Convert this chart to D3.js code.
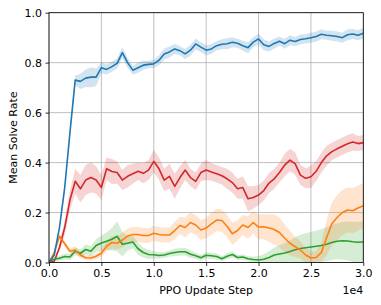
<!DOCTYPE html>
<html>
<head>
<meta charset="utf-8">
<script src="https://cdn.jsdelivr.net/npm/d3@7"></script>
<style>
body { margin: 0; background: #fff; }
text { font-family: 'DejaVu Sans', sans-serif; }
</style>
</head>
<body>
<div id="chart"></div>
<script>
// training steps, one value every 500 steps
let steps = [0, 500, 1000, 1500, 2000, 2500, 3000, 3500, 4000, 4500, 5000,
  5500, 6000, 6500, 7000, 7500, 8000, 8500, 9000, 9500, 10000,
  10500, 11000, 11500, 12000, 12500, 13000, 13500, 14000, 14500, 15000,
  15500, 16000, 16500, 17000, 17500, 18000, 18500, 19000, 19500, 20000,
  20500, 21000, 21500, 22000, 22500, 23000, 23500, 24000, 24500, 25000,
  25500, 26000, 26500, 27000, 27500, 28000, 28500, 29000, 29500, 30000]

let blueMean = [0.00, 0.03, 0.14, 0.30, 0.52, 0.73, 0.725, 0.738, 0.742, 0.742, 0.78,
  0.773, 0.784, 0.797, 0.84, 0.80, 0.77, 0.78, 0.79, 0.793, 0.795,
  0.81, 0.835, 0.843, 0.855, 0.848, 0.835, 0.85, 0.875, 0.862, 0.85,
  0.855, 0.868, 0.874, 0.876, 0.882, 0.878, 0.868, 0.86, 0.882, 0.895,
  0.872, 0.865, 0.877, 0.886, 0.876, 0.89, 0.885, 0.893, 0.896, 0.90,
  0.905, 0.914, 0.91, 0.908, 0.905, 0.90, 0.912, 0.915, 0.91, 0.918]
let blueBand = [0.003, 0.005, 0.008, 0.01, 0.012, 0.02, 0.03, 0.035, 0.04, 0.035, 0.022,
  0.02, 0.02, 0.02, 0.022, 0.02, 0.018, 0.02, 0.018, 0.015, 0.017,
  0.02, 0.022, 0.022, 0.02, 0.018, 0.02, 0.022, 0.022, 0.02, 0.02,
  0.02, 0.018, 0.02, 0.022, 0.02, 0.018, 0.02, 0.022, 0.02, 0.022,
  0.022, 0.02, 0.02, 0.018, 0.02, 0.02, 0.018, 0.02, 0.018, 0.02,
  0.02, 0.02, 0.018, 0.02, 0.02, 0.02, 0.022, 0.02, 0.02, 0.022]

let redMean = [0.00, 0.005, 0.06, 0.14, 0.25, 0.325, 0.295, 0.33, 0.34, 0.33, 0.30,
  0.375, 0.364, 0.36, 0.33, 0.345, 0.355, 0.365, 0.357, 0.37, 0.405,
  0.375, 0.33, 0.345, 0.305, 0.34, 0.37, 0.34, 0.325, 0.36, 0.37,
  0.362, 0.355, 0.347, 0.335, 0.32, 0.295, 0.30, 0.255, 0.26, 0.27,
  0.288, 0.318, 0.335, 0.36, 0.39, 0.41, 0.395, 0.35, 0.337, 0.343,
  0.365, 0.40, 0.427, 0.444, 0.455, 0.465, 0.475, 0.482, 0.476, 0.48]
let redBand = [0.002, 0.005, 0.015, 0.03, 0.04, 0.05, 0.055, 0.06, 0.06, 0.055, 0.05,
  0.045, 0.05, 0.045, 0.04, 0.045, 0.04, 0.035, 0.04, 0.04, 0.045,
  0.045, 0.045, 0.05, 0.05, 0.045, 0.04, 0.035, 0.035, 0.035, 0.04,
  0.035, 0.035, 0.035, 0.04, 0.04, 0.04, 0.045, 0.05, 0.045, 0.04,
  0.04, 0.04, 0.04, 0.04, 0.045, 0.045, 0.045, 0.04, 0.04, 0.045,
  0.04, 0.04, 0.04, 0.035, 0.035, 0.035, 0.035, 0.035, 0.03, 0.03]

let orangeMean = [0.00, 0.04, 0.105, 0.075, 0.045, 0.05, 0.03, 0.019, 0.018, 0.025, 0.037,
  0.065, 0.08, 0.077, 0.09, 0.106, 0.112, 0.112, 0.108, 0.108, 0.117,
  0.112, 0.11, 0.11, 0.128, 0.148, 0.14, 0.16, 0.15, 0.13, 0.138,
  0.155, 0.17, 0.168, 0.145, 0.115, 0.128, 0.15, 0.14, 0.16, 0.142,
  0.143, 0.138, 0.132, 0.12, 0.097, 0.077, 0.063, 0.05, 0.03, 0.018,
  0.02, 0.04, 0.10, 0.155, 0.18, 0.20, 0.21, 0.207, 0.218, 0.227]
let orangeBand = [0.002, 0.005, 0.01, 0.012, 0.012, 0.015, 0.012, 0.01, 0.01, 0.012, 0.015,
  0.02, 0.025, 0.025, 0.03, 0.03, 0.03, 0.03, 0.03, 0.03, 0.03,
  0.03, 0.03, 0.03, 0.035, 0.035, 0.04, 0.04, 0.04, 0.04, 0.04,
  0.045, 0.045, 0.045, 0.045, 0.045, 0.04, 0.04, 0.045, 0.045, 0.05,
  0.05, 0.055, 0.06, 0.06, 0.055, 0.05, 0.04, 0.035, 0.03, 0.025,
  0.025, 0.04, 0.07, 0.085, 0.09, 0.09, 0.09, 0.09, 0.09, 0.09]

let greenMean = [0.005, 0.013, 0.017, 0.024, 0.022, 0.045, 0.037, 0.052, 0.045, 0.068, 0.078,
  0.085, 0.093, 0.105, 0.073, 0.077, 0.082, 0.055, 0.04, 0.032, 0.031,
  0.028, 0.03, 0.036, 0.04, 0.043, 0.043, 0.033, 0.027, 0.019, 0.029,
  0.027, 0.024, 0.015, 0.025, 0.032, 0.02, 0.022, 0.015, 0.012, 0.01,
  0.013, 0.02, 0.03, 0.034, 0.038, 0.044, 0.051, 0.056, 0.059, 0.062,
  0.065, 0.068, 0.073, 0.08, 0.085, 0.087, 0.086, 0.083, 0.081, 0.082]
let greenBand = [0.003, 0.008, 0.01, 0.012, 0.012, 0.015, 0.015, 0.02, 0.02, 0.025, 0.03,
  0.035, 0.045, 0.06, 0.05, 0.03, 0.025, 0.025, 0.02, 0.018, 0.015,
  0.012, 0.012, 0.012, 0.015, 0.015, 0.015, 0.015, 0.012, 0.012, 0.012,
  0.012, 0.012, 0.01, 0.012, 0.012, 0.01, 0.01, 0.01, 0.012, 0.015,
  0.02, 0.025, 0.03, 0.035, 0.04, 0.045, 0.05, 0.055, 0.058, 0.06,
  0.062, 0.065, 0.068, 0.07, 0.072, 0.075, 0.078, 0.08, 0.082, 0.083]

let xTicks = [0, 5000, 10000, 15000, 20000, 25000, 30000]
let yTicks = [0, 0.2, 0.4, 0.6, 0.8, 1.0]

// drawn in this order, last one on top
let series = [
  { mean: redMean, band: redBand, color: '#d62728' },
  { mean: greenMean, band: greenBand, color: '#2ca02c' },
  { mean: orangeMean, band: orangeBand, color: '#ff7f0e' },
  { mean: blueMean, band: blueBand, color: '#1f77b4' }
]

let width = 381, height = 305
let plotLeft = 49, plotRight = 363.3, plotTop = 12.7, plotBottom = 262.5
let fontSize = '11px'

let svg = d3.select('#chart')
.append('svg')
.attr('width', width)
.attr('height', height)

let x = d3.scaleLinear().domain([0, 30000]).range([plotLeft, plotRight])
let y = d3.scaleLinear().domain([0, 1]).range([plotBottom, plotTop])

svg.append('clipPath')
.attr('id', 'plot-clip')
.append('rect')
.attr('x', plotLeft)
.attr('y', plotTop)
.attr('width', plotRight - plotLeft)
.attr('height', plotBottom - plotTop)

// grid
let grid = svg.append('g').attr('class', 'grid')
grid.selectAll('.vgrid')
.data(xTicks)
.join('line')
.attr('x1', d => x(d)).attr('x2', d => x(d))
.attr('y1', plotTop).attr('y2', plotBottom)
.style('stroke', '#b0b0b0')
.style('stroke-width', 0.8)
grid.selectAll('.hgrid')
.data(yTicks)
.join('line')
.attr('y1', d => y(d)).attr('y2', d => y(d))
.attr('x1', plotLeft).attr('x2', plotRight)
.style('stroke', '#b0b0b0')
.style('stroke-width', 0.8)

let plot = svg.append('g').attr('clip-path', 'url(#plot-clip)')

let area = d3.area()
.x(d => x(d.step))
.y0(d => y(d.v - d.b))
.y1(d => y(d.v + d.b))

let line = d3.line()
.x(d => x(d.step))
.y(d => y(d.v))

for (let s of series) {
  let pts = steps.map((st, i) => ({ step: st, v: s.mean[i], b: s.band[i] }))
  plot.append('path')
  .attr('d', area(pts))
  .attr('fill', s.color)
  .attr('fill-opacity', 0.2)
  .attr('stroke', 'none')
}
for (let s of series) {
  let pts = steps.map((st, i) => ({ step: st, v: s.mean[i] }))
  plot.append('path')
  .attr('d', line(pts))
  .attr('fill', 'none')
  .attr('stroke', s.color)
  .attr('stroke-width', 1.6)
  .attr('stroke-linejoin', 'round')
}

// axes
svg.append('g')
.attr('transform', `translate(0,${plotBottom})`)
.call(d3.axisBottom(x).tickValues(xTicks).tickFormat(d => (d / 10000).toFixed(1)).tickSizeOuter(0).tickSize(3.5).tickPadding(3.5))
svg.append('g')
.attr('transform', `translate(${plotLeft},0)`)
.call(d3.axisLeft(y).tickValues(yTicks).tickFormat(d3.format('.1f')).tickSizeOuter(0).tickSize(3.5).tickPadding(3.5))

svg.selectAll('.domain').remove()
svg.selectAll('.tick line').style('stroke', '#000').style('stroke-width', 0.8)
svg.selectAll('.tick text')
.style('font-family', "'DejaVu Sans', sans-serif")
.style('font-size', fontSize)
.style('fill', '#000')

// frame
svg.append('rect')
.attr('x', plotLeft).attr('y', plotTop)
.attr('width', plotRight - plotLeft).attr('height', plotBottom - plotTop)
.attr('fill', 'none')
.style('stroke', '#000')
.style('stroke-width', 0.8)

svg.append('text')
.attr('x', (plotLeft + plotRight) / 2)
.attr('y', 294)
.attr('text-anchor', 'middle')
.style('font-size', fontSize)
.text('PPO Update Step')

svg.append('text')
.attr('x', plotRight)
.attr('y', 294)
.attr('text-anchor', 'end')
.style('font-size', fontSize)
.text('1e4')

svg.append('text')
.attr('transform', `translate(17,${(plotTop + plotBottom) / 2}) rotate(-90)`)
.attr('text-anchor', 'middle')
.style('font-size', fontSize)
.text('Mean Solve Rate')
</script>
</body>
</html>
